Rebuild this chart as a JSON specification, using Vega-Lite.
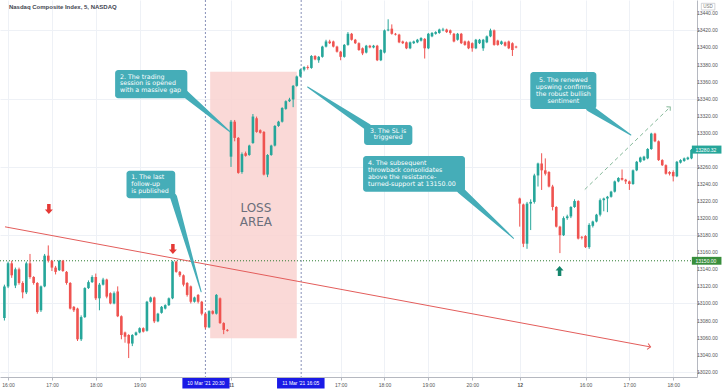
{
"$schema":"https://vega.github.io/schema/vega-lite/v6.json",
"width":697,"height":377,
"autosize":{"type":"none"},
"padding":{"left":0,"top":0,"right":31,"bottom":14},
"background":"#ffffff",
"config":{"view":{"stroke":null},"font":"DejaVu Sans",
 "axis":{"labelOverlap":false,"labelFlush":false,"labelFont":"Liberation Sans","labelFontSize":5,"labelColor":"#555555","labelPadding":2,"grid":true,"gridColor":"#eef1f6","domainColor":"#b5b8c0","tickColor":"#b5b8c0","tickSize":3,"title":null}},
"datasets":{
"candles":[
{"x":0,"o":13083,"h":13122,"l":13080,"c":13120},{"x":1,"o":13120,"h":13149,"l":13118,"c":13147},{"x":2,"o":13147,"h":13150,"l":13130,"c":13133},{"x":3,"o":13121,"h":13142,"l":13118,"c":13140},{"x":4,"o":13140,"h":13142,"l":13122,"c":13124},{"x":5,"o":13124,"h":13126,"l":13106,"c":13113},{"x":6,"o":13113,"h":13149,"l":13111,"c":13147},{"x":7,"o":13147,"h":13158,"l":13129,"c":13131},{"x":8,"o":13131,"h":13132,"l":13122,"c":13124},{"x":9,"o":13124,"h":13125,"l":13088,"c":13090},
{"x":10,"o":13092,"h":13121,"l":13090,"c":13120},{"x":11,"o":13120,"h":13158,"l":13119,"c":13156},{"x":12,"o":13156,"h":13168,"l":13148,"c":13150},{"x":13,"o":13150,"h":13151,"l":13138,"c":13142},{"x":14,"o":13142,"h":13144,"l":13134,"c":13137},{"x":15,"o":13139,"h":13151,"l":13138,"c":13150},{"x":16,"o":13150,"h":13151,"l":13137,"c":13138},{"x":17,"o":13137,"h":13138,"l":13122,"c":13124},{"x":18,"o":13124,"h":13125,"l":13093,"c":13094},{"x":19,"o":13096,"h":13097,"l":13090,"c":13092},
{"x":20,"o":13094,"h":13095,"l":13056,"c":13058},{"x":21,"o":13058,"h":13086,"l":13056,"c":13084},{"x":22,"o":13084,"h":13119,"l":13083,"c":13118},{"x":23,"o":13118,"h":13127,"l":13117,"c":13125},{"x":24,"o":13125,"h":13133,"l":13124,"c":13131},{"x":25,"o":13131,"h":13135,"l":13104,"c":13106},{"x":26,"o":13106,"h":13124,"l":13092,"c":13122},{"x":27,"o":13122,"h":13130,"l":13121,"c":13128},{"x":28,"o":13128,"h":13129,"l":13106,"c":13108},{"x":29,"o":13112,"h":13113,"l":13099,"c":13100},
{"x":30,"o":13100,"h":13114,"l":13099,"c":13112},{"x":31,"o":13114,"h":13120,"l":13084,"c":13085},{"x":32,"o":13085,"h":13086,"l":13058,"c":13063},{"x":33,"o":13066,"h":13067,"l":13054,"c":13061},{"x":34,"o":13063,"h":13064,"l":13036,"c":13053},{"x":35,"o":13053,"h":13064,"l":13050,"c":13063},{"x":36,"o":13063,"h":13067,"l":13062,"c":13066},{"x":37,"o":13066,"h":13072,"l":13065,"c":13071},{"x":38,"o":13071,"h":13072,"l":13066,"c":13067},{"x":39,"o":13068,"h":13103,"l":13067,"c":13102},
{"x":40,"o":13102,"h":13108,"l":13101,"c":13107},{"x":41,"o":13107,"h":13108,"l":13077,"c":13079},{"x":42,"o":13079,"h":13089,"l":13078,"c":13088},{"x":43,"o":13089,"h":13097,"l":13088,"c":13096},{"x":44,"o":13094,"h":13099,"l":13093,"c":13098},{"x":45,"o":13098,"h":13107,"l":13097,"c":13106},{"x":46,"o":13106,"h":13150,"l":13105,"c":13149},{"x":47,"o":13149,"h":13150,"l":13136,"c":13137},{"x":48,"o":13137,"h":13138,"l":13131,"c":13133},{"x":49,"o":13133,"h":13134,"l":13120,"c":13122},
{"x":50,"o":13124,"h":13125,"l":13108,"c":13110},{"x":51,"o":13120,"h":13121,"l":13100,"c":13102},{"x":52,"o":13102,"h":13108,"l":13101,"c":13107},{"x":53,"o":13110,"h":13111,"l":13100,"c":13102},{"x":54,"o":13102,"h":13103,"l":13086,"c":13088},{"x":55,"o":13088,"h":13089,"l":13070,"c":13072},{"x":56,"o":13072,"h":13092,"l":13071,"c":13091},{"x":57,"o":13091,"h":13092,"l":13087,"c":13088},{"x":58,"o":13088,"h":13111,"l":13087,"c":13110},{"x":59,"o":13106,"h":13107,"l":13076,"c":13077},
{"x":60,"o":13077,"h":13078,"l":13064,"c":13069},{"x":61,"o":13069,"h":13070,"l":13067,"c":13068},
{"x":62,"o":13272,"h":13315,"l":13260,"c":13313},{"x":63,"o":13313,"h":13315,"l":13290,"c":13294},{"x":64,"o":13294,"h":13295,"l":13252,"c":13253},{"x":65,"o":13254,"h":13277,"l":13252,"c":13275},{"x":66,"o":13276,"h":13278,"l":13272,"c":13273},{"x":67,"o":13274,"h":13286,"l":13273,"c":13285},{"x":68,"o":13288,"h":13322,"l":13287,"c":13319},{"x":69,"o":13317,"h":13319,"l":13300,"c":13301},
{"x":70,"o":13303,"h":13304,"l":13299,"c":13300},{"x":71,"o":13301,"h":13302,"l":13250,"c":13251},{"x":72,"o":13251,"h":13275,"l":13248,"c":13274},{"x":73,"o":13274,"h":13286,"l":13273,"c":13285},{"x":74,"o":13285,"h":13309,"l":13284,"c":13308},{"x":75,"o":13308,"h":13314,"l":13307,"c":13313},{"x":76,"o":13313,"h":13330,"l":13312,"c":13329},{"x":77,"o":13328,"h":13338,"l":13327,"c":13337},{"x":78,"o":13337,"h":13341,"l":13336,"c":13339},{"x":79,"o":13339,"h":13356,"l":13330,"c":13355},
{"x":80,"o":13355,"h":13367,"l":13354,"c":13366},{"x":81,"o":13366,"h":13375,"l":13365,"c":13374},{"x":82,"o":13374,"h":13378,"l":13372,"c":13377},{"x":83,"o":13377,"h":13379,"l":13374,"c":13376},{"x":84,"o":13376,"h":13391,"l":13375,"c":13390},{"x":85,"o":13390,"h":13391,"l":13385,"c":13386},{"x":86,"o":13385,"h":13390,"l":13382,"c":13389},{"x":87,"o":13389,"h":13402,"l":13388,"c":13401},{"x":88,"o":13401,"h":13409,"l":13400,"c":13407},{"x":89,"o":13407,"h":13409,"l":13404,"c":13405},
{"x":90,"o":13407,"h":13408,"l":13400,"c":13401},{"x":91,"o":13401,"h":13402,"l":13394,"c":13395},{"x":92,"o":13395,"h":13396,"l":13385,"c":13389},{"x":93,"o":13389,"h":13404,"l":13388,"c":13403},{"x":94,"o":13403,"h":13418,"l":13402,"c":13416},{"x":95,"o":13416,"h":13417,"l":13408,"c":13409},{"x":96,"o":13409,"h":13410,"l":13404,"c":13405},{"x":97,"o":13405,"h":13406,"l":13396,"c":13397},{"x":98,"o":13399,"h":13400,"l":13391,"c":13393},{"x":99,"o":13394,"h":13403,"l":13393,"c":13402},
{"x":100,"o":13402,"h":13403,"l":13399,"c":13400},{"x":101,"o":13400,"h":13403,"l":13399,"c":13402},{"x":102,"o":13402,"h":13403,"l":13384,"c":13385},{"x":103,"o":13385,"h":13398,"l":13384,"c":13397},{"x":104,"o":13394,"h":13421,"l":13393,"c":13420},{"x":105,"o":13420,"h":13433,"l":13419,"c":13421},{"x":106,"o":13422,"h":13427,"l":13415,"c":13416},{"x":107,"o":13416,"h":13417,"l":13414,"c":13415},{"x":108,"o":13415,"h":13416,"l":13405,"c":13406},{"x":109,"o":13407,"h":13408,"l":13404,"c":13405},
{"x":110,"o":13406,"h":13407,"l":13398,"c":13399},{"x":111,"o":13399,"h":13407,"l":13398,"c":13406},{"x":112,"o":13405,"h":13408,"l":13404,"c":13407},{"x":113,"o":13406,"h":13410,"l":13405,"c":13409},{"x":114,"o":13408,"h":13412,"l":13407,"c":13411},{"x":115,"o":13410,"h":13411,"l":13387,"c":13399},{"x":116,"o":13399,"h":13417,"l":13398,"c":13416},{"x":117,"o":13413,"h":13418,"l":13412,"c":13417},{"x":118,"o":13416,"h":13419,"l":13415,"c":13418},{"x":119,"o":13417,"h":13422,"l":13416,"c":13421},
{"x":120,"o":13420,"h":13423,"l":13419,"c":13421},{"x":121,"o":13421,"h":13422,"l":13417,"c":13418},{"x":122,"o":13420,"h":13421,"l":13415,"c":13417},{"x":123,"o":13416,"h":13417,"l":13406,"c":13407},{"x":124,"o":13409,"h":13417,"l":13408,"c":13416},{"x":125,"o":13416,"h":13417,"l":13404,"c":13405},{"x":126,"o":13407,"h":13408,"l":13402,"c":13403},{"x":127,"o":13407,"h":13408,"l":13398,"c":13399},{"x":128,"o":13405,"h":13406,"l":13395,"c":13399},{"x":129,"o":13399,"h":13410,"l":13398,"c":13409},
{"x":130,"o":13405,"h":13410,"l":13404,"c":13409},{"x":131,"o":13399,"h":13410,"l":13396,"c":13409},{"x":132,"o":13406,"h":13414,"l":13405,"c":13413},{"x":133,"o":13413,"h":13422,"l":13412,"c":13420},{"x":134,"o":13420,"h":13421,"l":13402,"c":13403},{"x":135,"o":13408,"h":13409,"l":13402,"c":13403},{"x":136,"o":13404,"h":13408,"l":13403,"c":13407},{"x":137,"o":13406,"h":13407,"l":13401,"c":13402},{"x":138,"o":13407,"h":13408,"l":13398,"c":13399},{"x":139,"o":13405,"h":13406,"l":13390,"c":13397},
{"x":140,"o":13401,"h":13402,"l":13399,"c":13400},
{"x":141,"o":13223,"h":13224,"l":13190,"c":13217},{"x":142,"o":13216,"h":13217,"l":13166,"c":13170},{"x":143,"o":13170,"h":13219,"l":13164,"c":13217},{"x":144,"o":13217,"h":13222,"l":13186,"c":13219},{"x":145,"o":13219,"h":13252,"l":13217,"c":13250},{"x":146,"o":13250,"h":13265,"l":13237,"c":13264},{"x":147,"o":13264,"h":13276,"l":13233,"c":13256},{"x":148,"o":13256,"h":13270,"l":13250,"c":13252},{"x":149,"o":13254,"h":13255,"l":13236,"c":13237},
{"x":150,"o":13237,"h":13239,"l":13209,"c":13213},{"x":151,"o":13213,"h":13214,"l":13189,"c":13190},{"x":152,"o":13190,"h":13191,"l":13159,"c":13180},{"x":153,"o":13180,"h":13202,"l":13179,"c":13200},{"x":154,"o":13200,"h":13204,"l":13198,"c":13202},{"x":155,"o":13202,"h":13214,"l":13200,"c":13213},{"x":156,"o":13213,"h":13222,"l":13212,"c":13220},{"x":157,"o":13220,"h":13221,"l":13175,"c":13176},{"x":158,"o":13178,"h":13179,"l":13175,"c":13177},{"x":159,"o":13179,"h":13180,"l":13165,"c":13166},
{"x":160,"o":13166,"h":13194,"l":13164,"c":13192},{"x":161,"o":13191,"h":13197,"l":13189,"c":13196},{"x":162,"o":13196,"h":13205,"l":13195,"c":13204},{"x":163,"o":13204,"h":13223,"l":13202,"c":13221},{"x":164,"o":13221,"h":13224,"l":13208,"c":13223},{"x":165,"o":13223,"h":13226,"l":13207,"c":13225},{"x":166,"o":13225,"h":13232,"l":13224,"c":13231},{"x":167,"o":13231,"h":13244,"l":13230,"c":13243},{"x":168,"o":13243,"h":13248,"l":13242,"c":13247},{"x":169,"o":13247,"h":13257,"l":13244,"c":13245},
{"x":170,"o":13245,"h":13246,"l":13240,"c":13243},{"x":171,"o":13243,"h":13244,"l":13233,"c":13240},{"x":172,"o":13240,"h":13257,"l":13239,"c":13256},{"x":173,"o":13256,"h":13267,"l":13255,"c":13266},{"x":174,"o":13266,"h":13272,"l":13265,"c":13271},{"x":175,"o":13268,"h":13273,"l":13267,"c":13272},{"x":176,"o":13270,"h":13282,"l":13269,"c":13281},{"x":177,"o":13281,"h":13300,"l":13280,"c":13299},{"x":178,"o":13299,"h":13300,"l":13289,"c":13290},{"x":179,"o":13290,"h":13291,"l":13267,"c":13268},
{"x":180,"o":13268,"h":13269,"l":13261,"c":13262},{"x":181,"o":13262,"h":13263,"l":13251,"c":13252},{"x":182,"o":13254,"h":13255,"l":13250,"c":13252},{"x":183,"o":13254,"h":13256,"l":13243,"c":13249},{"x":184,"o":13249,"h":13267,"l":13248,"c":13266},{"x":185,"o":13265,"h":13269,"l":13264,"c":13268},{"x":186,"o":13267,"h":13271,"l":13266,"c":13270},{"x":187,"o":13269,"h":13272,"l":13268,"c":13271},{"x":188,"o":13270,"h":13281,"l":13269,"c":13280}
],
"yticks":[{"v":13020},{"v":13040},{"v":13060},{"v":13080},{"v":13100},{"v":13120},{"v":13140},{"v":13160},{"v":13180},{"v":13200},{"v":13220},{"v":13240},{"v":13260},{"v":13300},{"v":13320},{"v":13340},{"v":13360},{"v":13380},{"v":13400},{"v":13420},{"v":13440}],
"loss":[{"x":56.3,"x2":80.0,"y":13371.6,"y2":13059.1}],
"hline":[{"y":13150}],
"vlines":[{"x":55.0},{"x":81.2}],
"trend":[{"x":0.16,"y":13189.8},{"x":176.8,"y":13049.0}],
"trendhead":[{"x":176.8,"y":13049.0}],
"dash":[{"x":158.8,"y":13233.5},{"x":182.2,"y":13330.3}],
"dashhead":[{"x":182.2,"y":13330.3}],
"down":[{"x":12.16,"y":13210.7},{"x":46.1,"y":13163.8}],
"up":[{"x":151.9,"y":13138.0}],
"ptr":[
{"id":1,"x":46.28,"y":13224.7,"end":1},{"id":1,"x":53.83,"y":13113.7,"end":0},
{"id":2,"x":49.51,"y":13345.4,"end":1},{"id":2,"x":61.73,"y":13301.2,"end":0},
{"id":3,"x":99.41,"y":13306.8,"end":1},{"id":3,"x":82.96,"y":13353.6,"end":0},
{"id":4,"x":124.76,"y":13232.9,"end":1},{"id":4,"x":139.32,"y":13176.3,"end":0},
{"id":5,"x":160.09,"y":13329.0,"end":1},{"id":5,"x":171.41,"y":13297.4,"end":0}],
"boxes":[
{"x":33.41,"x2":46.74,"y":13255.5,"y2":13223.2},
{"x":30.29,"x2":50.05,"y":13373.6,"y2":13340.4},
{"x":98.41,"x2":111.62,"y":13309.1,"y2":13285.7},
{"x":98.14,"x2":126.02,"y":13272.8,"y2":13230.9},
{"x":143.9,"x2":161.97,"y":13371.2,"y2":13327.8}],
"textL":[
{"x":34.68,"y":13248.2,"t":"1. The last"},{"x":34.68,"y":13240.0,"t":"follow-up"},{"x":34.68,"y":13231.8,"t":"is published"},
{"x":31.63,"y":13365.7,"t":"2. The trading"},{"x":31.63,"y":13358.0,"t":"session is opened"},{"x":31.63,"y":13350.1,"t":"with a massive gap"},
{"x":99.49,"y":13264.2,"t":"4. The subsequent"},{"x":99.49,"y":13256.4,"t":"throwback consolidates"},{"x":99.49,"y":13247.8,"t":"above the resistance-"},{"x":99.49,"y":13240.0,"t":"turned-support at 13150.00"}],
"textC":[
{"x":105.0,"y":13302.4,"t":"3. The SL is"},{"x":105.0,"y":13294.7,"t":"triggered"},
{"x":152.94,"y":13362.4,"t":"5. The renewed"},{"x":152.94,"y":13354.0,"t":"upswing confirms"},{"x":152.94,"y":13345.4,"t":"the robust bullish"},{"x":152.94,"y":13337.6,"t":"sentiment"}],
"losstext":[{"x":68.8,"y":13211.5,"t":"LOSS"},{"x":68.8,"y":13195.8,"t":"AREA"}],
"title":[{"x":1.24,"y":13447.7,"t":"Nasdaq Composite Index, 5, NASDAQ"}],
"xflags":[
{"x":48.7,"x2":61.6,"y":13012.7,"y2":13000.3,"xm":55.15,"ym":13006.5,"t":"10 Mar '21   20:30"},
{"x":74.6,"x2":87.6,"y":13012.7,"y2":13000.3,"xm":81.1,"ym":13006.5,"t":"11 Mar '21   16:05"}],
"yflags":[
{"x":188.1,"x2":196.2,"y":13285.0,"y2":13275.6,"xt":189.1,"yt":13280.32,"t":"13280.32"},
{"x":188.1,"x2":196.2,"y":13154.6,"y2":13145.4,"xt":189.1,"yt":13150.0,"t":"13150.00"}],
"usd":[{"x":190.7,"x2":194.4,"y":13451.7,"y2":13443.9,"xm":192.55,"ym":13447.8,"t":"USD"}]
},
"layer":[
{"data":{"name":"candles"},"mark":{"type":"rule","strokeWidth":0,"opacity":0},
 "encoding":{"x":{"field":"x","type":"quantitative","scale":{"domain":[0.16,188.14],"nice":false,"zero":false},
   "axis":{"title":null,"values":[1,13,25,37,62,92,104,116,128,141,159,171,183],
   "labelExpr":"datum.value==1?'16:00':datum.value==13?'17:00':datum.value==25?'18:00':datum.value==37?'19:00':datum.value==62?'11':datum.value==92?'17:00':datum.value==104?'18:00':datum.value==116?'19:00':datum.value==128?'20:00':datum.value==141?'12':datum.value==159?'16:00':datum.value==171?'17:00':'18:00'",
   "labelFontWeight":{"condition":{"test":"datum.value==62||datum.value==141","value":"bold"},"value":"normal"},
   "grid":true,"labelOverlap":false}},
 "y":{"field":"o","type":"quantitative","scale":{"domain":[13013.8,13455.6],"nice":false,"zero":false},
   "axis":{"title":null,"orient":"right","values":[13020,13040,13060,13080,13100,13120,13140,13160,13180,13200,13220,13240,13260,13280,13300,13320,13340,13360,13380,13400,13420,13440],"labels":false,"grid":true}}}},
{"data":{"name":"yticks"},"mark":{"type":"text","align":"left","baseline":"middle","color":"#555555","font":"Liberation Sans","fontSize":5},
 "encoding":{"x":{"datum":189.5,"type":"quantitative","axis":{"title":null}},
 "y":{"field":"v","type":"quantitative","axis":{"title":null}},
 "text":{"field":"v","type":"quantitative","format":".2f"}}},
{"data":{"name":"loss"},"mark":{"type":"rect","color":"#f9d2d0","opacity":0.85},
 "encoding":{"x":{"field":"x","type":"quantitative","axis":{"title":null}},"x2":{"field":"x2"},
 "y":{"field":"y","type":"quantitative","axis":{"title":null}},"y2":{"field":"y2"}}},
{"data":{"name":"hline"},"mark":{"type":"rule","color":"#2e7d32","strokeDash":[1,2],"strokeWidth":1},
 "encoding":{"y":{"field":"y","type":"quantitative","axis":{"title":null}}}},
{"data":{"name":"vlines"},"mark":{"type":"rule","color":"#8890b8","strokeDash":[2,2],"strokeWidth":1},
 "encoding":{"x":{"field":"x","type":"quantitative","axis":{"title":null}}}},
{"data":{"name":"trend"},"mark":{"type":"line","color":"#e35d5b","strokeWidth":1},
 "encoding":{"x":{"field":"x","type":"quantitative","axis":{"title":null}},
 "y":{"field":"y","type":"quantitative","axis":{"title":null}}}},
{"data":{"name":"trendhead"},"mark":{"type":"point","shape":"M-1,-1L0,0L-1,1","filled":false,"size":36,"angle":10.4,"color":"#e35d5b","strokeWidth":1,"opacity":1},
 "encoding":{"x":{"field":"x","type":"quantitative","axis":{"title":null}},
 "y":{"field":"y","type":"quantitative","axis":{"title":null}}}},
{"data":{"name":"candles"},"mark":{"type":"rule","strokeWidth":1},
 "encoding":{"x":{"field":"x","type":"quantitative","axis":{"title":null}},
 "y":{"field":"l","type":"quantitative","axis":{"title":null}},"y2":{"field":"h"},
 "color":{"condition":{"test":"datum.c >= datum.o","value":"#26a69a"},"value":"#ef5350"}}},
{"data":{"name":"candles"},"mark":{"type":"bar","size":2.6},
 "encoding":{"x":{"field":"x","type":"quantitative","axis":{"title":null}},
 "y":{"field":"o","type":"quantitative","axis":{"title":null}},"y2":{"field":"c"},
 "color":{"condition":{"test":"datum.c >= datum.o","value":"#26a69a"},"value":"#ef5350"}}},
{"data":{"name":"dash"},"mark":{"type":"line","color":"#86b99a","strokeDash":[4,3],"strokeWidth":1},
 "encoding":{"x":{"field":"x","type":"quantitative","axis":{"title":null}},
 "y":{"field":"y","type":"quantitative","axis":{"title":null}}}},
{"data":{"name":"dashhead"},"mark":{"type":"point","shape":"M-1,-1L0,0L-1,1","filled":false,"size":30,"angle":-43.9,"color":"#86b99a","strokeWidth":1,"opacity":1},
 "encoding":{"x":{"field":"x","type":"quantitative","axis":{"title":null}},
 "y":{"field":"y","type":"quantitative","axis":{"title":null}}}},
{"data":{"name":"down"},"mark":{"type":"point","shape":"M-0.35,-1L0.35,-1L0.35,0.1L0.8,0.1L0,1L-0.8,0.1L-0.35,0.1Z","filled":true,"size":100,"color":"#e53935","opacity":1},
 "encoding":{"x":{"field":"x","type":"quantitative","axis":{"title":null}},
 "y":{"field":"y","type":"quantitative","axis":{"title":null}}}},
{"data":{"name":"up"},"mark":{"type":"point","shape":"M-0.35,1L0.35,1L0.35,-0.1L0.8,-0.1L0,-1L-0.8,-0.1L-0.35,-0.1Z","filled":true,"size":100,"color":"#14856c","opacity":1},
 "encoding":{"x":{"field":"x","type":"quantitative","axis":{"title":null}},
 "y":{"field":"y","type":"quantitative","axis":{"title":null}}}},
{"data":{"name":"ptr"},"mark":{"type":"trail","color":"#45adb8"},
 "encoding":{"x":{"field":"x","type":"quantitative","axis":{"title":null}},
 "y":{"field":"y","type":"quantitative","axis":{"title":null}},
 "size":{"field":"end","type":"quantitative","scale":{"domain":[0,1],"range":[0,7]},"legend":null},
 "detail":{"field":"id","type":"nominal"}}},
{"data":{"name":"boxes"},"mark":{"type":"rect","color":"#45adb8","cornerRadius":3},
 "encoding":{"x":{"field":"x","type":"quantitative","axis":{"title":null}},"x2":{"field":"x2"},
 "y":{"field":"y","type":"quantitative","axis":{"title":null}},"y2":{"field":"y2"}}},
{"data":{"name":"textL"},"mark":{"type":"text","align":"left","baseline":"middle","color":"#ffffff","font":"DejaVu Sans","fontSize":6.3},
 "encoding":{"x":{"field":"x","type":"quantitative","axis":{"title":null}},
 "y":{"field":"y","type":"quantitative","axis":{"title":null}},"text":{"field":"t"}}},
{"data":{"name":"textC"},"mark":{"type":"text","align":"center","baseline":"middle","color":"#ffffff","font":"DejaVu Sans","fontSize":6.3},
 "encoding":{"x":{"field":"x","type":"quantitative","axis":{"title":null}},
 "y":{"field":"y","type":"quantitative","axis":{"title":null}},"text":{"field":"t"}}},
{"data":{"name":"losstext"},"mark":{"type":"text","align":"center","baseline":"middle","color":"#6b6f7b","font":"DejaVu Sans","fontSize":12},
 "encoding":{"x":{"field":"x","type":"quantitative","axis":{"title":null}},
 "y":{"field":"y","type":"quantitative","axis":{"title":null}},"text":{"field":"t"}}},
{"data":{"name":"title"},"mark":{"type":"text","align":"left","baseline":"middle","color":"#434651","font":"Liberation Sans","fontSize":6,"fontWeight":"bold"},
 "encoding":{"x":{"field":"x","type":"quantitative","axis":{"title":null}},
 "y":{"field":"y","type":"quantitative","axis":{"title":null}},"text":{"field":"t"}}},
{"data":{"name":"xflags"},"mark":{"type":"rect","color":"#1a1ae6"},
 "encoding":{"x":{"field":"x","type":"quantitative","axis":{"title":null}},"x2":{"field":"x2"},
 "y":{"field":"y","type":"quantitative","axis":{"title":null}},"y2":{"field":"y2"}}},
{"data":{"name":"xflags"},"mark":{"type":"text","align":"center","baseline":"middle","color":"#ffffff","font":"Liberation Sans","fontSize":5},
 "encoding":{"x":{"field":"xm","type":"quantitative","axis":{"title":null}},
 "y":{"field":"ym","type":"quantitative","axis":{"title":null}},"text":{"field":"t"}}},
{"data":{"name":"yflags"},"mark":{"type":"rect"},
 "encoding":{"x":{"field":"x","type":"quantitative","axis":{"title":null}},"x2":{"field":"x2"},
 "y":{"field":"y","type":"quantitative","axis":{"title":null}},"y2":{"field":"y2"},
 "color":{"field":"t","type":"nominal","scale":{"domain":["13280.32","13150.00"],"range":["#26a69a","#388e3c"]},"legend":null}}},
{"data":{"name":"yflags"},"mark":{"type":"text","align":"left","baseline":"middle","color":"#ffffff","font":"Liberation Sans","fontSize":5},
 "encoding":{"x":{"field":"xt","type":"quantitative","axis":{"title":null}},
 "y":{"field":"yt","type":"quantitative","axis":{"title":null}},"text":{"field":"t"}}},
{"data":{"name":"usd"},"mark":{"type":"rect","fill":"#ffffff","stroke":"#b5b8c0","strokeWidth":0.6},
 "encoding":{"x":{"field":"x","type":"quantitative","axis":{"title":null}},"x2":{"field":"x2"},
 "y":{"field":"y","type":"quantitative","axis":{"title":null}},"y2":{"field":"y2"}}},
{"data":{"name":"usd"},"mark":{"type":"text","align":"center","baseline":"middle","color":"#777777","font":"Liberation Sans","fontSize":4.5},
 "encoding":{"x":{"field":"xm","type":"quantitative","axis":{"title":null}},
 "y":{"field":"ym","type":"quantitative","axis":{"title":null}},"text":{"field":"t"}}}
]
}
